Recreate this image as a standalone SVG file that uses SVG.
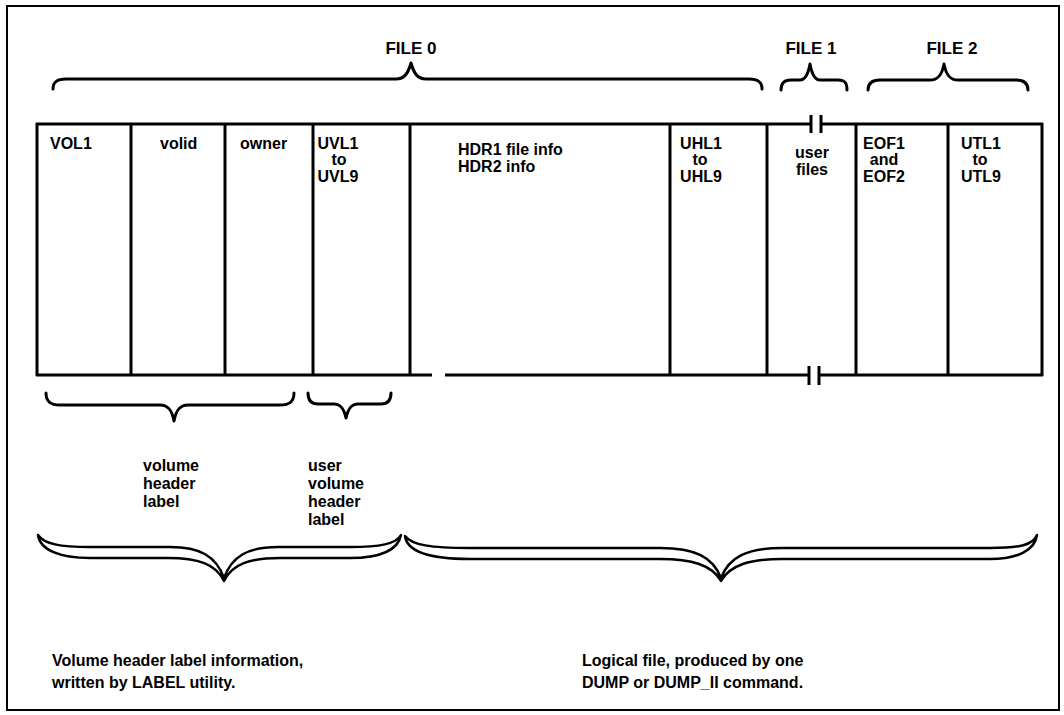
<svg xmlns="http://www.w3.org/2000/svg" width="1064" height="715" viewBox="0 0 1064 715">
  <style>
    .frame { fill: none; stroke: #000; stroke-width: 2; }
    .ln { fill: none; stroke: #000; stroke-width: 3; }
    .br { fill: none; stroke: #000; stroke-width: 3; stroke-linecap: round; stroke-linejoin: round; }
    .big { fill: #fff; stroke: #000; stroke-width: 2.5; stroke-linejoin: round; }
    .t { font-family: "Liberation Sans", Arial, Helvetica, sans-serif; font-weight: bold; font-size: 16px; fill: #000; }
    .h { font-size: 17px; }
    .m { text-anchor: middle; }
  </style>

  <rect x="0" y="0" width="1064" height="715" fill="#fff"/>
  <rect class="frame" x="7" y="6" width="1052" height="704"/>

  <!-- file labels and their braces -->
  <g id="file0">
    <text class="t h m" x="411" y="54">FILE 0</text>
    <path class="br" d="M 53,89 C 53,82 57,79 66,79 L 396,79 C 404,79 408,74 411,63 C 414,74 418,79 426,79 L 749,79 C 758,79 762,82 762,89"/>
  </g>
  <g id="file1">
    <text class="t h m" x="811" y="54">FILE 1</text>
    <path class="br" d="M 781,90 C 781,83 784,80 791,80 L 800,80 C 805,80 808,75 810,64 C 812,75 815,80 820,80 L 838,80 C 845,80 847,83 847,90"/>
  </g>
  <g id="file2">
    <text class="t h m" x="952" y="54">FILE 2</text>
    <path class="br" d="M 868,90 C 868,83 872,80 880,80 L 930,80 C 938,80 942,75 944,64 C 946,75 950,80 958,80 L 1016,80 C 1024,80 1028,83 1028,90"/>
  </g>

  <!-- tape outline: top and bottom edges with breaks -->
  <g id="connectors">
    <path class="ln" d="M 36,124 L 811,124 M 821,124 L 1043,124"/>
    <path class="ln" d="M 811,115 L 811,133 M 821,115 L 821,133"/>
    <path class="ln" d="M 36,375 L 432,375 M 445,375 L 809,375 M 819,375 L 1043,375"/>
    <path class="ln" d="M 809,366 L 809,385 M 819,366 L 819,385"/>
    <path class="ln" d="M 37,123 L 37,376 M 1042,123 L 1042,376"/>
  </g>

  <!-- label blocks on the tape -->
  <g id="vol1">
    <line class="ln" x1="131" y1="124" x2="131" y2="375"/>
    <text class="t" x="50" y="149">VOL1</text>
  </g>
  <g id="volid">
    <line class="ln" x1="225" y1="124" x2="225" y2="375"/>
    <text class="t" x="160" y="149">volid</text>
  </g>
  <g id="owner">
    <line class="ln" x1="313" y1="124" x2="313" y2="375"/>
    <text class="t" x="240" y="149">owner</text>
  </g>
  <g id="uvl">
    <line class="ln" x1="410" y1="124" x2="410" y2="375"/>
    <text class="t m" x="338" y="149">UVL1</text>
    <text class="t m" x="339" y="165">to</text>
    <text class="t m" x="338" y="182">UVL9</text>
  </g>
  <g id="hdr">
    <text class="t" x="458" y="155">HDR1 file info</text>
    <text class="t" x="458" y="172">HDR2 info</text>
  </g>
  <g id="uhl">
    <line class="ln" x1="670" y1="124" x2="670" y2="375"/>
    <text class="t m" x="701" y="149">UHL1</text>
    <text class="t m" x="700" y="165">to</text>
    <text class="t m" x="701" y="182">UHL9</text>
  </g>
  <g id="userfiles">
    <line class="ln" x1="767" y1="124" x2="767" y2="375"/>
    <text class="t m" x="812" y="158">user</text>
    <text class="t m" x="812" y="175">files</text>
  </g>
  <g id="eof">
    <line class="ln" x1="856" y1="124" x2="856" y2="375"/>
    <text class="t m" x="884" y="149">EOF1</text>
    <text class="t m" x="884" y="165">and</text>
    <text class="t m" x="884" y="182">EOF2</text>
  </g>
  <g id="utl">
    <line class="ln" x1="948" y1="124" x2="948" y2="375"/>
    <text class="t m" x="981" y="149">UTL1</text>
    <text class="t m" x="980" y="165">to</text>
    <text class="t m" x="981" y="182">UTL9</text>
  </g>

  <!-- lower braces and captions -->
  <g id="volume-header-label">
    <path class="br" d="M 46,393 C 46,401 50,405 60,405 L 160,405 C 168,405 172,410 174,421 C 176,410 180,405 188,405 L 280,405 C 290,405 294,401 294,393"/>
    <text class="t" x="143" y="471">volume</text>
    <text class="t" x="143" y="489">header</text>
    <text class="t" x="143" y="507">label</text>
  </g>
  <g id="user-volume-header-label">
    <path class="br" d="M 308,393 C 308,400 311,404 318,404 L 334,404 C 341,404 344,409 346,418 C 348,409 351,404 358,404 L 381,404 C 388,404 391,400 391,393"/>
    <text class="t" x="308" y="471">user</text>
    <text class="t" x="308" y="489">volume</text>
    <text class="t" x="308" y="507">header</text>
    <text class="t" x="308" y="525">label</text>
  </g>
  <g id="volume-info">
    <path class="big" d="M 38,535 C 44,544 60,547 90,547 L 170,547 C 200,547 216,556 224,578 C 232,556 248,547 278,547 L 350,547 C 380,547 396,544 401,535 C 398,550 380,558 350,558 L 280,558 C 250,558 232,564 224,581 C 216,564 198,558 168,558 L 90,558 C 60,558 40,550 38,535 Z"/>
    <text class="t" x="52" y="666">Volume header label information,</text>
    <text class="t" x="52" y="688">written by LABEL utility.</text>
  </g>
  <g id="logical-file">
    <path class="big" d="M 405,536 C 412,545 430,548 470,548 L 660,548 C 695,548 713,557 721,578 C 729,557 747,548 782,548 L 990,548 C 1020,548 1033,545 1037,535 C 1035,550 1018,559 990,559 L 782,559 C 750,559 730,565 721,581 C 712,565 692,559 660,559 L 470,559 C 430,559 407,552 405,536 Z"/>
    <text class="t" x="582" y="666">Logical file, produced by one</text>
    <text class="t" x="582" y="688">DUMP or DUMP_II command.</text>
  </g>
</svg>
